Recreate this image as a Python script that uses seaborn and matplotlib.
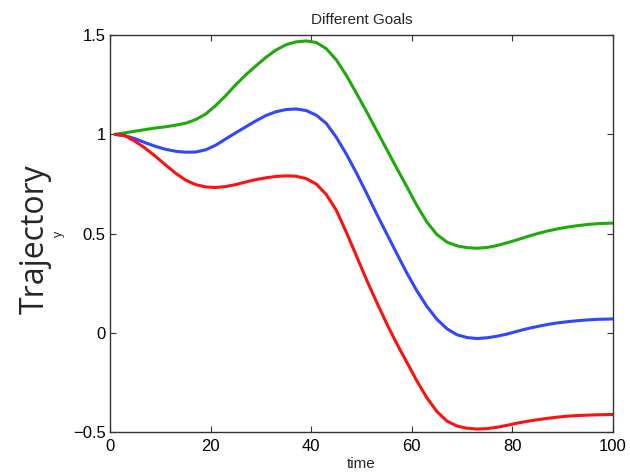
import matplotlib
matplotlib.use("Agg")
import matplotlib.pyplot as plt
import seaborn as sns
import pandas as pd
from matplotlib.ticker import FuncFormatter

time = [1, 3, 5, 7, 9, 11, 13, 15, 17, 19, 21, 23, 25, 27, 29, 31, 33, 35, 37, 39,
        41, 43, 45, 47, 49, 51, 53, 55, 57, 59, 61, 63, 65, 67, 69, 71, 73, 75, 77, 79,
        81, 83, 85, 87, 89, 91, 93, 95, 97, 99, 100]

goal_high = [1.000, 1.008, 1.016, 1.024, 1.032, 1.038, 1.046, 1.056, 1.074, 1.102,
             1.145, 1.195, 1.250, 1.300, 1.345, 1.388, 1.425, 1.452, 1.466, 1.471,
             1.463, 1.432, 1.375, 1.297, 1.207, 1.115, 1.020, 0.925, 0.830, 0.737,
             0.642, 0.558, 0.495, 0.457, 0.438, 0.429, 0.426, 0.430, 0.440, 0.454,
             0.469, 0.485, 0.500, 0.513, 0.524, 0.533, 0.540, 0.546, 0.550, 0.552, 0.553]

goal_mid = [1.000, 0.993, 0.978, 0.958, 0.940, 0.925, 0.915, 0.910, 0.911, 0.922,
            0.945, 0.977, 1.008, 1.038, 1.068, 1.095, 1.114, 1.125, 1.128, 1.120,
            1.097, 1.055, 0.985, 0.900, 0.805, 0.704, 0.600, 0.500, 0.400, 0.302,
            0.212, 0.133, 0.068, 0.020, -0.010, -0.024, -0.029, -0.025, -0.017, -0.006,
            0.008, 0.021, 0.032, 0.042, 0.050, 0.056, 0.061, 0.065, 0.068, 0.069, 0.070]

goal_low = [1.000, 0.993, 0.965, 0.930, 0.890, 0.847, 0.805, 0.770, 0.747, 0.735,
            0.732, 0.737, 0.747, 0.760, 0.772, 0.781, 0.788, 0.791, 0.789, 0.777,
            0.750, 0.697, 0.617, 0.506, 0.387, 0.267, 0.155, 0.047, -0.054, -0.148,
            -0.242, -0.328, -0.397, -0.445, -0.470, -0.481, -0.485, -0.483, -0.476, -0.466,
            -0.455, -0.446, -0.438, -0.431, -0.425, -0.420, -0.417, -0.415, -0.413, -0.412, -0.412]

series_names = ["high", "mid", "low"]
colors = {"high": "#1faa0c", "mid": "#3046ff", "low": "#ff1010"}

df = pd.concat([
    pd.DataFrame({"time": time, "y": vals, "goal": name})
    for name, vals in zip(series_names, [goal_high, goal_mid, goal_low])
], ignore_index=True)

sns.set_theme(style="white")
plt.rcParams["font.family"] = ["Liberation Sans", "DejaVu Sans"]
plt.rcParams["axes.unicode_minus"] = True

fig = plt.figure(figsize=(6.3, 4.75), dpi=100)
ax = fig.add_axes([0.1746, 0.0905, 0.7984, 0.8355])

sns.lineplot(data=df, x="time", y="y", hue="goal", palette=colors,
             hue_order=["high", "mid", "low"], linewidth=2.2, legend=False, ax=ax,
             estimator=None, sort=False)

ax.set_xlim(0, 100)
ax.set_ylim(-0.5, 1.5)
ax.set_xticks([0, 20, 40, 60, 80, 100])
ax.set_yticks([-0.5, 0, 0.5, 1, 1.5])
ax.yaxis.set_major_formatter(FuncFormatter(lambda v, p: ("%g" % v).replace("-", "\u2212")))
ax.tick_params(direction="in", length=4, width=0.8, colors="#333333",
               labelcolor="black", labelsize=12, top=True, right=True,
               bottom=True, left=True)
ax.tick_params(axis="x", pad=5)
ax.tick_params(axis="y", pad=3)
for s in ax.spines.values():
    s.set_color("#333333")
    s.set_linewidth(1.0)
    s.set_visible(True)

ax.set_title("Different Goals", fontsize=11, pad=8)
ax.set_xlabel("time", fontsize=11, labelpad=2)
ax.set_ylabel("y", fontsize=9)
ax.yaxis.set_label_coords(-0.09, 0.5)

fig.text(0.056, 0.497, "Trajectory", rotation=90, fontsize=23,
         ha="center", va="center", family=["Open Sans", "DejaVu Sans"])

fig.savefig("out.png", dpi=100)
